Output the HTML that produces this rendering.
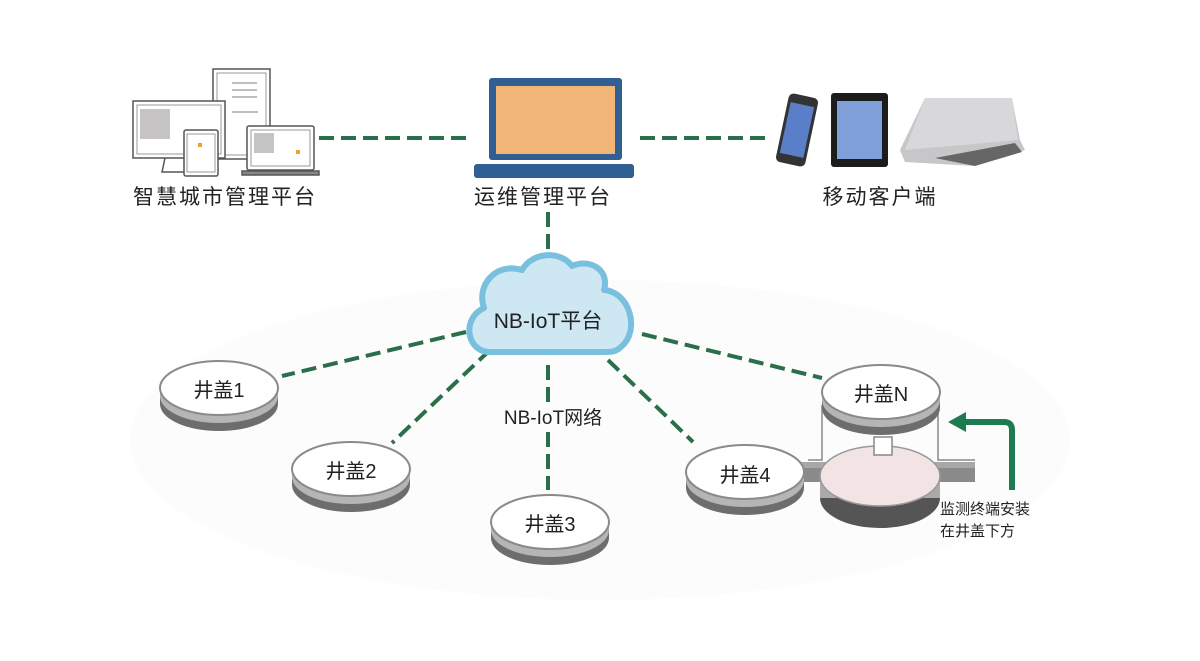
<!DOCTYPE html>
<html><head><meta charset="utf-8"><style>
html,body{margin:0;padding:0;background:#fff;}
svg{display:block}
text{font-family:"Liberation Sans","Noto Sans CJK SC",sans-serif;fill:#222}
</style></head><body>
<svg width="1200" height="661" viewBox="0 0 1200 661" xmlns="http://www.w3.org/2000/svg">
<defs>
<g id="disc">
  <ellipse cx="0" cy="16" rx="59" ry="27" fill="#6d6d6d"/>
  <rect x="-59" y="0" width="118" height="16" fill="#6d6d6d"/>
  <ellipse cx="0" cy="8" rx="59" ry="27" fill="#b5b5b5"/>
  <rect x="-59" y="0" width="118" height="8" fill="#b5b5b5"/>
  <ellipse cx="0" cy="0" rx="59" ry="27" fill="#fff" stroke="#8a8a8a" stroke-width="2"/>
</g>
</defs>
<ellipse cx="600" cy="440" rx="470" ry="160" fill="#fcfcfc"/>

<!-- left devices -->
<g stroke="#555" stroke-width="1.5" fill="#fff">
  <rect x="213" y="69" width="57" height="90" />
  <rect x="217" y="73" width="49" height="82" stroke="#999" stroke-width="1"/>
  <line x1="232" y1="83" x2="257" y2="83" stroke="#aaa"/><line x1="232" y1="90" x2="257" y2="90" stroke="#aaa"/>
  <line x1="232" y1="97" x2="257" y2="97" stroke="#aaa"/><line x1="232" y1="112" x2="258" y2="112" stroke="#aaa"/>
  <rect x="133" y="101" width="92" height="57" />
  <rect x="137" y="105" width="84" height="49" stroke="#999" stroke-width="1"/>
  <path d="M165 158 L162 172 L190 172" fill="none"/>
  <rect x="184" y="130" width="34" height="46" rx="2"/>
  <rect x="187" y="134" width="28" height="38" stroke="#999" stroke-width="1"/>
  <rect x="247" y="126" width="67" height="44" rx="2"/>
  <rect x="251" y="130" width="59" height="36" stroke="#999" stroke-width="1"/>
  <rect x="242" y="171" width="77" height="4" fill="#888"/>
</g>
<rect x="140" y="109" width="30" height="30" fill="#c6c4c4"/>
<rect x="254" y="133" width="20" height="20" fill="#c6c4c4"/>
<rect x="198" y="143" width="4" height="4" fill="#f0a030"/>
<rect x="296" y="150" width="4" height="4" fill="#f0a030"/>
<text x="225" y="204" font-size="21" text-anchor="middle" letter-spacing="2">智慧城市管理平台</text>

<!-- dashed links -->
<g stroke="#2a6e4a" stroke-width="4" stroke-dasharray="15,7" fill="none">
  <line x1="319" y1="138" x2="468" y2="138"/>
  <line x1="640" y1="138" x2="772" y2="138"/>
  <line x1="548" y1="212" x2="548" y2="255"/>
  <line x1="466" y1="332" x2="282" y2="376"/>
  <line x1="490" y1="350" x2="392" y2="443"/>
  <line x1="548" y1="365" x2="548" y2="408"/>
  <line x1="548" y1="432" x2="548" y2="490"/>
  <line x1="608" y1="360" x2="693" y2="442"/>
  <line x1="642" y1="334" x2="822" y2="378"/>
</g>

<!-- central laptop -->
<rect x="489" y="78" width="133" height="82" rx="3" fill="#2f5f93"/>
<rect x="496" y="86" width="119" height="68" fill="#f1b577"/>
<rect x="474" y="164" width="160" height="14" rx="3" fill="#2f5f93"/>
<text x="543" y="204" font-size="21" text-anchor="middle" letter-spacing="2">运维管理平台</text>

<!-- mobile devices -->
<g transform="rotate(12 797 130)">
  <rect x="782" y="95" width="30" height="70" rx="5" fill="#333"/>
  <rect x="785" y="104" width="24" height="52" fill="#5a7fc8"/>
</g>
<rect x="831" y="93" width="57" height="74" rx="3" fill="#1c1c1c"/>
<rect x="837" y="101" width="45" height="58" fill="#7fa0d8"/>
<path d="M925 98 L1012 98 L1020 140 L1025 150 L975 166 L905 162 L900 150 Z" fill="#c7c7ca"/>
<path d="M925 98 L1012 98 L1018 140 L905 150 Z" fill="#d8d8db"/>
<path d="M935 158 L1015 143 L1022 152 L975 166 Z" fill="#666"/>
<text x="880" y="204" font-size="21" text-anchor="middle" letter-spacing="2">移动客户端</text>

<!-- cloud -->
<path d="M488 352 C466 350 462 318 484 308 C476 285 496 262 522 270 C532 252 560 250 572 266 C590 258 610 270 604 290 C630 292 640 330 622 346 C616 352 612 352 604 352 Z" fill="#cde7f3" stroke="#79bfde" stroke-width="6" stroke-linejoin="round"/>
<text x="548" y="328" font-size="21" text-anchor="middle">NB-IoT平台</text>
<text x="553" y="424" font-size="19" text-anchor="middle">NB-IoT网络</text>

<!-- discs -->
<use href="#disc" transform="translate(219,388)"/>
<text x="219" y="397" font-size="20" text-anchor="middle">井盖1</text>
<use href="#disc" transform="translate(351,469)"/>
<text x="351" y="478" font-size="20" text-anchor="middle">井盖2</text>
<use href="#disc" transform="translate(550,522)"/>
<text x="550" y="531" font-size="20" text-anchor="middle">井盖3</text>

<!-- well -->
<rect x="800" y="462" width="175" height="20" fill="#8a8a8a"/>
<rect x="800" y="462" width="175" height="6" fill="#a8a8a8"/>
<ellipse cx="880" cy="498" rx="60" ry="30" fill="#555"/>
<rect x="820" y="476" width="120" height="22" fill="#aaa"/>
<ellipse cx="880" cy="476" rx="60" ry="30" fill="#f2e3e4" stroke="#999" stroke-width="1.5"/>
<path d="M808 460 L822 460 L822 405 M938 405 L938 460 L975 460" fill="none" stroke="#888" stroke-width="1.5"/>
<rect x="874" y="437" width="18" height="18" fill="#fff" stroke="#888" stroke-width="1.5"/>

<use href="#disc" transform="translate(745,472)"/>
<text x="745" y="482" font-size="20" text-anchor="middle">井盖4</text>
<use href="#disc" transform="translate(881,392)"/>
<text x="881" y="401" font-size="20" text-anchor="middle">井盖N</text>

<!-- arrow -->
<path d="M1012 490 L1012 430 Q1012 422 1004 422 L962 422" fill="none" stroke="#1e7a4f" stroke-width="6"/>
<path d="M948 422 L966 412 L966 432 Z" fill="#1e7a4f"/>
<text x="940" y="514" font-size="15">监测终端安装</text>
<text x="940" y="536" font-size="15">在井盖下方</text>
</svg>
</body></html>
